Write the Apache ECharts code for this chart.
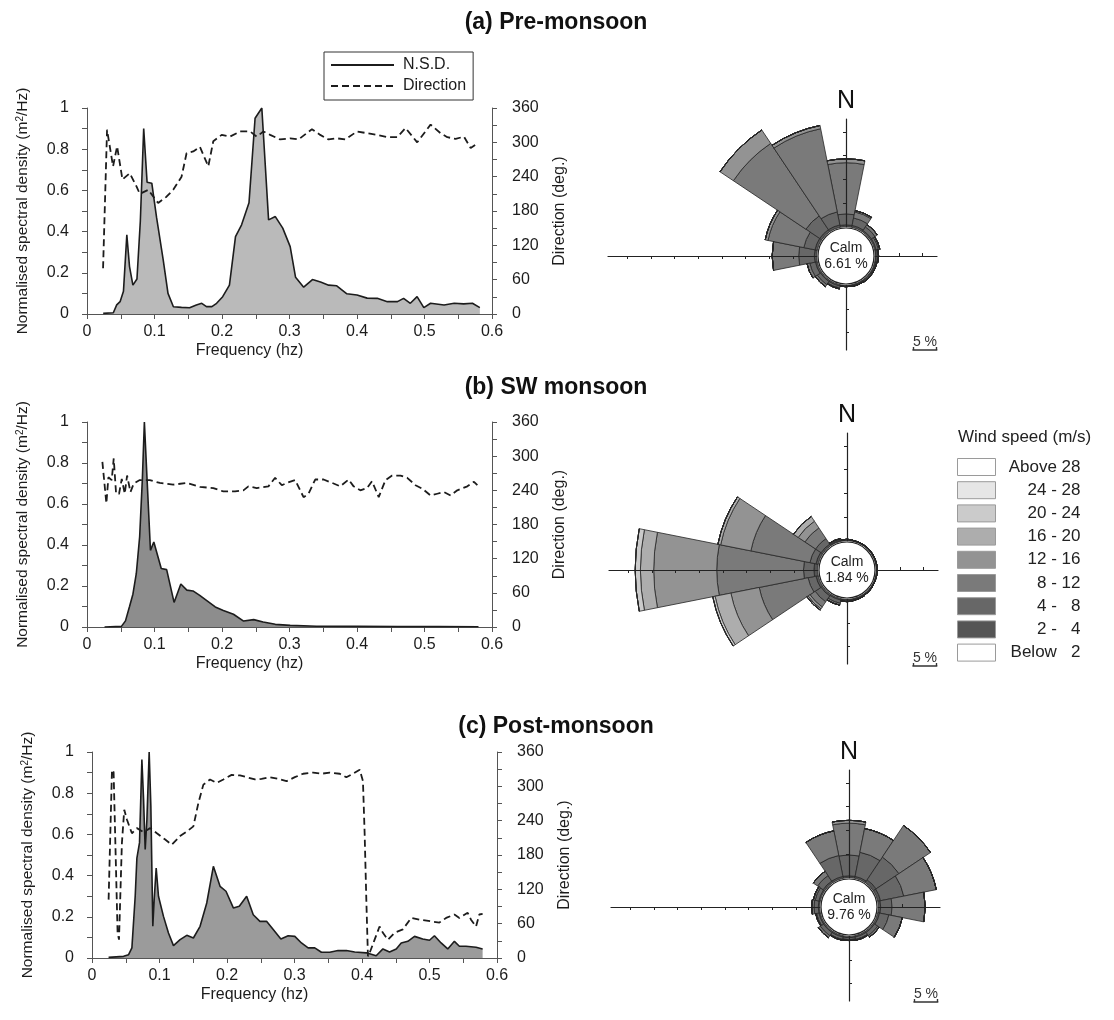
<!DOCTYPE html>
<html>
<head>
<meta charset="utf-8">
<script src="https://cdn.jsdelivr.net/npm/echarts@6/dist/echarts.min.js"></script>
<style>
  html, body { margin: 0; padding: 0; background: #fff; }
  #chart { width: 1114px; height: 1020px; }
</style>
</head>
<body>
<div id="chart"></div>
<script>
// ---------- Wave spectra: [frequency (Hz), value] ----------
const preNsd = [[0.024,0.003],[0.039,0.006],[0.044,0.044],[0.049,0.06],[0.054,0.11],[0.059,0.384],[0.063,0.23],[0.068,0.14],[0.074,0.17],[0.079,0.45],[0.084,0.90],[0.089,0.64],[0.096,0.635],[0.103,0.47],[0.113,0.26],[0.120,0.10],[0.128,0.035],[0.140,0.032],[0.152,0.03],[0.162,0.044],[0.170,0.052],[0.177,0.036],[0.185,0.036],[0.192,0.052],[0.201,0.084],[0.211,0.14],[0.220,0.376],[0.229,0.433],[0.240,0.54],[0.249,0.95],[0.259,1.0],[0.269,0.457],[0.279,0.473],[0.290,0.417],[0.301,0.327],[0.309,0.178],[0.321,0.13],[0.334,0.167],[0.346,0.155],[0.358,0.14],[0.370,0.137],[0.385,0.098],[0.400,0.092],[0.415,0.077],[0.430,0.076],[0.445,0.06],[0.460,0.06],[0.469,0.076],[0.479,0.052],[0.489,0.084],[0.499,0.031],[0.509,0.052],[0.529,0.044],[0.544,0.052],[0.558,0.049],[0.571,0.052],[0.582,0.031]];
const preDir = [[0.0238,80],[0.0297,322],[0.0386,258],[0.0446,293],[0.0525,235],[0.0634,246],[0.0733,223],[0.0782,210],[0.0906,217],[0.1054,194],[0.1178,205],[0.1277,217],[0.1401,240],[0.1475,281],[0.1574,284],[0.1673,292],[0.1797,258],[0.1871,302],[0.1995,313],[0.2119,310],[0.2267,319],[0.2416,319],[0.2515,310],[0.2614,319],[0.2713,313],[0.2861,305],[0.301,307],[0.3134,305],[0.3332,323],[0.3455,313],[0.3579,305],[0.3703,307],[0.3827,305],[0.40,319],[0.4149,316],[0.4297,313],[0.4447,309],[0.4595,309],[0.4719,325],[0.4892,300],[0.509,331],[0.5238,316],[0.5338,309],[0.5461,306],[0.5585,310],[0.5684,290],[0.5758,296]];

const swNsd = [[0.026,0],[0.051,0.003],[0.057,0.03],[0.063,0.1],[0.068,0.16],[0.073,0.26],[0.078,0.44],[0.082,0.72],[0.085,1.0],[0.089,0.72],[0.094,0.374],[0.099,0.415],[0.110,0.285],[0.118,0.28],[0.129,0.12],[0.139,0.21],[0.148,0.18],[0.157,0.176],[0.167,0.154],[0.177,0.13],[0.190,0.098],[0.202,0.081],[0.217,0.062],[0.232,0.029],[0.247,0.036],[0.261,0.024],[0.279,0.013],[0.301,0.008],[0.340,0.004],[0.400,0.003],[0.460,0.002],[0.520,0.002],[0.580,0.001]];
const swDir = [[0.0228,290],[0.0287,217],[0.0317,263],[0.0366,258],[0.0396,296],[0.0431,234],[0.0475,234],[0.0515,260],[0.0559,234],[0.0594,266],[0.0644,237],[0.0693,252],[0.0782,258],[0.093,258],[0.1079,253],[0.1277,250],[0.1475,253],[0.1673,246],[0.1871,244],[0.202,238],[0.2193,238],[0.2317,240],[0.2391,247],[0.2515,244],[0.2688,247],[0.2787,262],[0.2886,249],[0.296,253],[0.3084,258],[0.3208,228],[0.3282,234],[0.3381,259],[0.3505,259],[0.3653,252],[0.3752,247],[0.3876,259],[0.395,247],[0.405,240],[0.4149,244],[0.4223,256],[0.4322,228],[0.4422,258],[0.452,266],[0.4644,266],[0.4744,262],[0.4867,249],[0.4966,243],[0.509,231],[0.5189,234],[0.5288,237],[0.5387,231],[0.5486,240],[0.5635,247],[0.5733,255],[0.5783,249]];

const postNsd = [[0.0246,0.003],[0.0468,0.008],[0.0542,0.016],[0.0591,0.049],[0.064,0.30],[0.0665,0.485],[0.0704,0.56],[0.0739,0.963],[0.0764,0.77],[0.0788,0.527],[0.0813,0.67],[0.0847,1.0],[0.0872,0.736],[0.0901,0.154],[0.0921,0.283],[0.0951,0.437],[0.0985,0.30],[0.1059,0.202],[0.1133,0.121],[0.1207,0.06],[0.1305,0.089],[0.1404,0.11],[0.1502,0.097],[0.1601,0.154],[0.170,0.267],[0.1798,0.445],[0.1897,0.348],[0.1985,0.324],[0.2094,0.243],[0.2182,0.251],[0.2291,0.30],[0.2389,0.21],[0.2488,0.178],[0.2586,0.178],[0.2685,0.138],[0.2798,0.092],[0.2906,0.108],[0.3005,0.105],[0.3103,0.073],[0.3202,0.049],[0.330,0.049],[0.3399,0.028],[0.3522,0.028],[0.3645,0.036],[0.3768,0.036],[0.3892,0.029],[0.4064,0.025],[0.421,0.011],[0.431,0.044],[0.4408,0.029],[0.4507,0.044],[0.4581,0.073],[0.4679,0.081],[0.4778,0.105],[0.49,0.092],[0.50,0.086],[0.5073,0.108],[0.5172,0.073],[0.527,0.044],[0.5369,0.081],[0.5443,0.057],[0.5541,0.057],[0.5689,0.052],[0.5787,0.044]];
const postDir = [[0.0246,102],[0.0296,329],[0.032,325],[0.0379,44],[0.040,32],[0.0443,201],[0.0478,259],[0.0517,242],[0.0591,218],[0.0665,227],[0.0764,220],[0.0862,227],[0.0961,218],[0.1084,207],[0.1182,198],[0.1305,213],[0.1404,221],[0.1502,230],[0.1576,271],[0.165,303],[0.1749,312],[0.1847,306],[0.1946,312],[0.2069,320],[0.2192,319],[0.2291,316],[0.2414,312],[0.2512,313],[0.2635,316],[0.2759,313],[0.2882,309],[0.3005,316],[0.3128,322],[0.3276,324],[0.3399,322],[0.3522,324],[0.367,322],[0.3768,316],[0.3867,322],[0.3966,329],[0.4014,309],[0.4039,218],[0.4064,102],[0.4088,3],[0.4113,9],[0.4187,32],[0.426,55],[0.431,44],[0.4383,32],[0.4482,44],[0.4605,50],[0.4729,70],[0.4852,67],[0.5024,64],[0.5147,62],[0.5246,70],[0.5369,76],[0.5443,70],[0.5566,79],[0.5615,67],[0.5689,55],[0.5738,76],[0.5787,77]];

const freqTicks = [0, 0.1, 0.2, 0.3, 0.4, 0.5, 0.6];

// ---------- Wind roses: % frequency per direction, one row per speed class ----------
const directions = ['N','NNE','NE','ENE','E','ESE','SE','SSE','S','SSW','SW','WSW','W','WNW','NW','NNW'];
const speedClasses = ['2 - \u20074', '4 - \u20078', '8 - 12', '12 - 16', '16 - 20', '20 - 24', '24 - 28', 'Above 28'];
const calmClass = 'Below \u20072';
const legendOrder = ['Above 28', '24 - 28', '20 - 24', '16 - 20', '12 - 16', '8 - 12', '4 - \u20078', '2 - \u20074', 'Below \u20072'];

const preRose = [
  [0.4,0.4,0.3,0.3,0.2,0.2,0.2,0.2,0.2,0.3,0.3,0.4,0.5,0.5,0.5,0.5],
  [2.3,1.6,0.9,0.5,0.3,0.2,0.2,0.2,0.1,0.4,0.8,1.2,3.3,2.4,3.5,2.8],
  [10.8,1.3,0.6,0.3,0.2,0.1,0.1,0,0,0.2,0.5,0.6,5.6,7.7,18.4,17.9],
  [0.8,0.3,0,0,0,0,0,0,0,0,0,0,0,0.6,3.4,0.7],
  [0,0,0,0,0,0,0,0,0,0,0,0,0,0,0,0],
  [0,0,0,0,0,0,0,0,0,0,0,0,0,0,0,0],
  [0,0,0,0,0,0,0,0,0,0,0,0,0,0,0,0],
  [0,0,0,0,0,0,0,0,0,0,0,0,0,0,0,0]
];
const swRose = [
  [0.2,0.1,0.1,0.1,0.1,0.1,0.15,0.2,0.2,0.3,0.4,0.5,0.8,0.5,0.4,0.2],
  [0.1,0.1,0.1,0.1,0.1,0.1,0.15,0.2,0.2,0.7,1.5,1.7,2.2,1.3,1.4,0.2],
  [0,0,0,0,0,0,0,0,0.1,0.4,1.3,10.5,18.3,12.7,2.7,0.2],
  [0,0,0,0,0,0,0,0,0,0,0.5,6.1,13.3,6.5,1.7,0],
  [0,0,0,0,0,0,0,0,0,0,0.3,3.4,2.8,0.6,1.2,0],
  [0,0,0,0,0,0,0,0,0,0,0,0.5,1.1,0,0,0],
  [0,0,0,0,0,0,0,0,0,0,0,0,0,0,0,0],
  [0,0,0,0,0,0,0,0,0,0,0,0,0,0,0,0]
];
const postRose = [
  [0.4,0.4,0.7,0.6,0.5,0.4,0.3,0.3,0.3,0.3,0.3,0.3,0.3,0.3,0.4,0.4],
  [4.4,5.2,5.8,5.0,2.4,2.0,0.8,0.5,0.4,0.5,0.8,0.5,0.9,0.8,1.4,4.5],
  [6.7,5.1,8.0,7.0,7.0,2.9,0.4,0.2,0.2,0.2,0.5,0.2,0.5,0.4,1.1,5.3],
  [0.6,0,0,0,0,0,0,0,0,0,0,0,0,0,0,0],
  [0,0,0,0,0,0,0,0,0,0,0,0,0,0,0,0],
  [0,0,0,0,0,0,0,0,0,0,0,0,0,0,0,0],
  [0,0,0,0,0,0,0,0,0,0,0,0,0,0,0,0],
  [0,0,0,0,0,0,0,0,0,0,0,0,0,0,0,0]
];
const calmPercent = [6.61, 1.84, 9.76];

// ---------- Styling / layout ----------
const FONT = "'Liberation Sans', Arial, sans-serif";
const INK = '#1c1c1c';
const AXIS = '#555';
const classColors = ['#555555','#676767','#7a7a7a','#939393','#adadad','#cbcbcb','#e6e6e6','#ffffff'];
const areaColors = ['#bababa', '#8d8d8d', '#9b9b9b'];
const panelTitles = ['(a) Pre-monsoon', '(b) SW monsoon', '(c) Post-monsoon'];
const titleY = [23, 388, 727];
const grids = [
  { left: 87, top: 108, width: 405, height: 206 },
  { left: 87, top: 422, width: 405, height: 205 },
  { left: 92, top: 752, width: 405, height: 206 }
];
const roseCenters = [[846, 256], [847, 570], [849, 907]];
const scaleBars = [[913, 350], [913, 666], [914, 1002]];
const ROSE_INNER = 29.3;          // radius of the calm circle edge (px)
const PX_PER_PCT = 23.7 / 5;      // radial scale of the roses
const ROSE_MAX = 40;
const compassArms = [[90, 137], [0, 91], [270, 94], [180, 238]]; // [drawing angle, arm length px]

const spectra = [[preNsd, preDir], [swNsd, swDir], [postNsd, postDir]];
const roses = [preRose, swRose, postRose];

const xAxis = [], yAxis = [], series = [];
const polar = [], angleAxis = [], radiusAxis = [];
const graphic = [];

const tickLine = { lineStyle: { color: AXIS, width: 1 } };

spectra.forEach(([nsd, dir], j) => {
  xAxis.push({
    type: 'value', gridIndex: j, min: 0, max: 0.6, interval: 0.1,
    name: 'Frequency (hz)', nameLocation: 'middle', nameGap: 29,
    nameTextStyle: { fontSize: 16, color: INK, padding: [0, 80, 0, 0] },
    axisLine: { onZero: false, lineStyle: { color: AXIS, width: 1 } },
    axisTick: { length: 5, ...tickLine },
    minorTick: { show: true, splitNumber: 2, length: 5, ...tickLine },
    axisLabel: { fontSize: 16, color: INK, margin: 10, customValues: freqTicks },
    splitLine: { show: false }
  });
  yAxis.push({
    type: 'value', gridIndex: j, position: 'left', min: 0, max: 1, interval: 0.2,
    name: 'Normalised spectral density (m{sup|2}/Hz)', nameLocation: 'middle', nameGap: 56,
    nameTextStyle: { fontSize: 15.5, color: INK, rich: { sup: { fontSize: 10, verticalAlign: 'top', color: INK } } },
    axisLine: { show: true, lineStyle: { color: AXIS, width: 1 } },
    axisTick: { length: 5, ...tickLine },
    minorTick: { show: true, splitNumber: 2, length: 5, ...tickLine },
    axisLabel: { fontSize: 16, color: INK, margin: 18 },
    splitLine: { show: false }
  });
  yAxis.push({
    type: 'value', gridIndex: j, position: 'right', min: 0, max: 360, interval: 60,
    name: 'Direction (deg.)', nameLocation: 'middle', nameGap: 60, nameRotate: 90,
    nameTextStyle: { fontSize: 16, color: INK },
    axisLine: { show: true, lineStyle: { color: AXIS, width: 1 } },
    axisTick: { length: 5, ...tickLine },
    minorTick: { show: true, splitNumber: 2, length: 5, ...tickLine },
    axisLabel: { fontSize: 16, color: INK, margin: 20 },
    splitLine: { show: false }
  });
  series.push({
    type: 'line', name: 'N.S.D.', xAxisIndex: j, yAxisIndex: 2 * j, data: nsd,
    symbol: 'none', silent: true,
    itemStyle: { color: INK },
    lineStyle: { color: INK, width: 1.6 },
    areaStyle: { color: areaColors[j], opacity: 1 }, z: 2
  });
  series.push({
    type: 'line', name: 'Direction', xAxisIndex: j, yAxisIndex: 2 * j + 1, data: dir,
    symbol: 'none', silent: true,
    itemStyle: { color: INK },
    lineStyle: { color: INK, width: 1.8, type: [7, 4] }, z: 3
  });
  graphic.push({
    type: 'text', x: 556, y: titleY[j],
    style: { text: panelTitles[j], fontSize: 23, fontWeight: 'bold', fontFamily: FONT, fill: '#111', align: 'center', verticalAlign: 'middle' }
  });
});

// Wind roses
let p = 0;
roses.forEach((rose, i) => {
  const [cx, cy] = roseCenters[i];

  // petals: stacked polar bars, one sector per compass direction
  polar.push({ center: [cx, cy], radius: [ROSE_INNER, ROSE_INNER + ROSE_MAX * PX_PER_PCT] });
  angleAxis.push({ polarIndex: p, type: 'category', data: directions, startAngle: 101.25, clockwise: true, show: false });
  radiusAxis.push({ polarIndex: p, type: 'value', min: 0, max: ROSE_MAX, show: false });
  rose.forEach((vals, k) => {
    series.push({
      type: 'bar', coordinateSystem: 'polar', polarIndex: p, name: speedClasses[k],
      stack: 'rose' + i, data: vals, barCategoryGap: '0%', silent: true,
      itemStyle: { color: classColors[k], borderColor: '#262626', borderWidth: 0.8 }, z: 2
    });
  });
  p++;

  // compass arms with 5 % ticks on both sides
  compassArms.forEach(([ang, len]) => {
    const max = (len - ROSE_INNER) / PX_PER_PCT;
    const ticks = [];
    for (let v = 5; v <= max; v += 5) ticks.push(v);
    [false, true].forEach(inside => {
      polar.push({ center: [cx, cy], radius: [ROSE_INNER, len] });
      angleAxis.push({ polarIndex: p, type: 'value', min: 0, max: 360, startAngle: ang, show: false });
      radiusAxis.push({
        polarIndex: p, type: 'value', min: 0, max: max, z: 6,
        axisLine: { show: !inside, lineStyle: { color: '#222', width: 1.2 } },
        axisTick: { show: true, inside: inside, length: 3, customValues: ticks, lineStyle: { color: '#222', width: 1 } },
        axisLabel: { show: false }, splitLine: { show: false }
      });
      p++;
    });
  });

  // 5 % scale bar
  const [bx, by] = scaleBars[i];
  [false, true].forEach(inside => {
    polar.push({ center: [bx, by], radius: [0, 5 * PX_PER_PCT] });
    angleAxis.push({ polarIndex: p, type: 'value', min: 0, max: 360, startAngle: 0, show: false });
    radiusAxis.push({
      polarIndex: p, type: 'value', min: 0, max: 5, z: 6,
      axisLine: { show: !inside, lineStyle: { color: '#333', width: 1.6 } },
      axisTick: { show: true, inside: inside, length: 3, customValues: [0, 5], lineStyle: { color: '#333', width: 1.2 } },
      axisLabel: { show: false }, splitLine: { show: false }
    });
    p++;
  });
  graphic.push({
    type: 'text', x: bx + 12, y: by - 8,
    style: { text: '5 %', fontSize: 14, fontFamily: FONT, fill: '#333', align: 'center', verticalAlign: 'middle' }
  });

  // calm circle
  series.push({
    type: 'pie', center: [cx, cy], radius: [0, 28], silent: true, z: 10,
    data: [{ name: calmClass, value: calmPercent[i] }],
    itemStyle: { color: '#ffffff', borderColor: '#222', borderWidth: 1.2 },
    label: { show: true, position: 'center', formatter: 'Calm\n{c} %', fontSize: 14, lineHeight: 16, color: '#222', fontFamily: FONT },
    labelLine: { show: false },
    emphasis: { disabled: true }
  });

  graphic.push({
    type: 'text', x: cx, y: cy - 155,
    style: { text: 'N', fontSize: 25, fontFamily: FONT, fill: '#111', align: 'center', verticalAlign: 'middle' }
  });
});

graphic.push({
  type: 'text', x: 958, y: 437,
  style: { text: 'Wind speed (m/s)', fontSize: 17, fontFamily: FONT, fill: '#222', align: 'left', verticalAlign: 'middle' }
});

const option = {
  animation: false,
  backgroundColor: '#ffffff',
  textStyle: { fontFamily: FONT },
  grid: grids,
  xAxis, yAxis, polar, angleAxis, radiusAxis,
  legend: [
    {
      data: ['N.S.D.', 'Direction'], orient: 'vertical', left: 324, top: 52,
      itemWidth: 63, itemHeight: 18, itemGap: 5, padding: [5, 7, 6, 6],
      borderColor: '#333', borderWidth: 1, selectedMode: false,
      itemStyle: { opacity: 0 },
      textStyle: { fontSize: 16, color: INK, padding: [0, 0, 0, 4] }
    },
    {
      data: legendOrder, orient: 'vertical', left: 957, top: 458,
      itemWidth: 38, itemHeight: 17, itemGap: 5.2, padding: 0, icon: 'rect',
      itemStyle: { borderColor: '#9a9a9a', borderWidth: 1 }, selectedMode: false,
      formatter: name => '{r|' + name + '}',
      textStyle: { fontSize: 17, color: '#222', rich: { r: { width: 80, align: 'right', fontSize: 17, color: '#222' } } }
    }
  ],
  graphic,
  series
};

const chart = echarts.init(document.getElementById('chart'), null, { renderer: 'canvas' });
chart.setOption(option);
</script>
</body>
</html>
